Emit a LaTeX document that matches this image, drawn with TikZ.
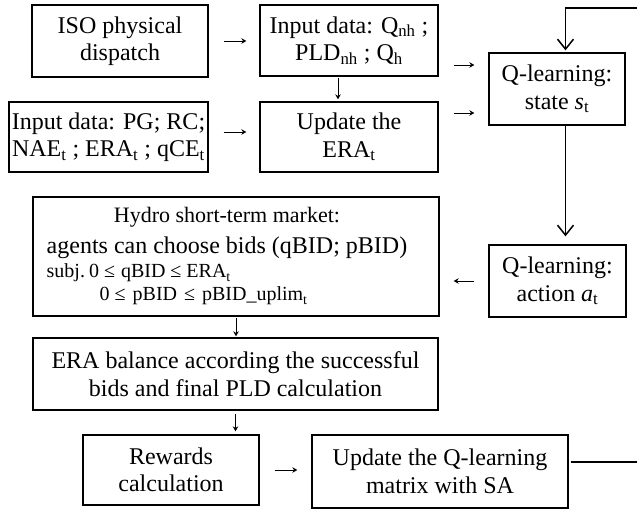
\documentclass[tikz,border=0pt]{standalone}
\usepackage{fontspec}
\setmainfont{Liberation Serif}
\usetikzlibrary{arrows.meta}
\newcommand\mainfs{\fontsize{24}{27.5}\selectfont}
\newcommand\midfs{\fontsize{22}{25}\selectfont}
\newcommand\smfs{\fontsize{20}{21}\selectfont}
\begin{document}
\begin{tikzpicture}[x=1pt,y=-1pt,
  box/.style={draw, line width=1.3pt, inner sep=1pt, align=center, font=\mainfs},
  tarrow/.style={line width=0.8pt, -{Stealth[length=5pt,width=5.5pt]}},
  barrow/.style={line width=1.5pt, -{Straight Barb[length=10pt,width=16pt]}},
  fb/.style={line width=1.6pt}]
\useasboundingbox (0,0) rectangle (637,510);
\node[box, minimum width=176pt, minimum height=72pt] (iso) at (120,41) {ISO physical\\dispatch};
\node[box, minimum width=178pt, minimum height=71pt] (inq) at (349,40.5) {Input data: Q\textsubscript{nh} ;\\PLD\textsubscript{nh} ; Q\textsubscript{h}};
\node[box, minimum width=199pt, minimum height=70pt] (inpg) at (108.5,137) {Input data: PG; RC;\\NAE\textsubscript{t} ; ERA\textsubscript{t} ; qCE\textsubscript{t}};
\node[box, minimum width=178pt, minimum height=70pt] (upd) at (349,137) {Update the\\ERA\textsubscript{t}};
\node[box, minimum width=136pt, minimum height=72pt] (state) at (557,89) {Q-learning:\\state \textit{s}\textsubscript{t}};
\node[box, minimum width=137pt, minimum height=72pt] (action) at (557.5,281) {Q-learning:\\action \textit{a}\textsubscript{t}};
\node[box, minimum width=406pt, minimum height=119pt] (hydro) at (236,256.5) {\begin{tabular}{@{}l@{}}
\multicolumn{1}{@{}c@{}}{\midfs Hydro short-term market:}\\[3pt]
agents can choose bids (qBID; pBID)\\[-3pt]
\smfs subj.\hspace{4pt}0 ≤\hspace{6pt}qBID ≤ ERA\textsubscript{t}\\[-4.5pt]
\smfs\hspace*{53pt}0 ≤\hspace{7pt}pBID\hspace{2pt} ≤\hspace{2pt} pBID\_uplim\textsubscript{t}
\end{tabular}\hspace*{18pt}};
\node[box, minimum width=405pt, minimum height=72pt] (era) at (235.5,374) {ERA balance according the successful\\bids and final PLD calculation};
\node[box, minimum width=176pt, minimum height=70pt] (rew) at (171,470) {Rewards\\calculation};
\node[box, minimum width=256pt, minimum height=73pt] (updq) at (440,471.5) {Update the Q-learning\\matrix with SA};
\coordinate (fbR) at (637,462);
\coordinate (fbT) at (637,8);
% small arrows
\draw[tarrow, shorten <=15pt, shorten >=13pt] (iso.east) -- (iso.east -| inq.west);
\draw[tarrow, shorten <=15pt, shorten >=13pt] ([yshift=5pt]inpg.east) -- ([yshift=5pt]inpg.east -| upd.west);
\draw[tarrow, shorten <=1pt, shorten >=2pt] ([xshift=-11pt]inq.south) -- ([xshift=-11pt]inq.south |- upd.north);
\draw[tarrow, shorten <=15pt, shorten >=14pt] ([yshift=-24.5pt]inq.east) -- ([yshift=-24.5pt]inq.east -| state.west);
\draw[tarrow, shorten <=15pt, shorten >=14pt] ([yshift=24pt]upd.east) -- ([yshift=24pt]upd.east -| state.west);
\draw[tarrow, shorten <=14pt, shorten >=14pt] (action.west) -- (action.west -| hydro.east);
\draw[tarrow, shorten <=1pt, shorten >=1pt] (hydro.south) -- (hydro.south |- era.north);
\draw[tarrow, shorten <=3pt, shorten >=3pt] (era.south) -- (era.south |- rew.north);
\draw[tarrow, shorten <=15pt, shorten >=14pt] (rew.east) -- (rew.east -| updq.west);
% big arrows
\draw[barrow, shorten >=8pt] ([xshift=8.5pt]state.south) -- ([xshift=8.5pt]state.south |- action.north);
\draw[barrow, shorten >=2pt] (fbT) -| ([xshift=8.5pt]state.north);
\draw[fb, shorten <=2pt] ([yshift=9.5pt]updq.east) -- ([yshift=9.5pt]updq.east -| fbR);
\end{tikzpicture}
\end{document}
